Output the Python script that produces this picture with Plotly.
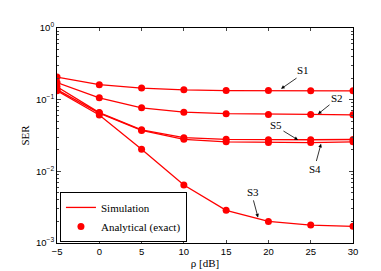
import plotly.graph_objects as go

rho = [-5, 0, 5, 10, 15, 20, 25, 30]
S1 = [0.207, 0.162, 0.145, 0.137, 0.134, 0.134, 0.133, 0.133]
S2 = [0.173, 0.106, 0.077, 0.067, 0.0637, 0.0623, 0.0623, 0.0614]
S3 = [0.133, 0.061, 0.0204, 0.00643, 0.00286, 0.0020, 0.00178, 0.00171]
S4 = [0.138, 0.065, 0.0372, 0.028, 0.0258, 0.0252, 0.0252, 0.0258]
S5 = [0.151, 0.066, 0.0380, 0.0295, 0.028, 0.0276, 0.0276, 0.0278]
series = {"S1": S1, "S2": S2, "S3": S3, "S4": S4, "S5": S5}

xtick_text = ["\u22125", "0", "5", "10", "15", "20", "25", "30"]
ytick_vals = [1e-3, 1e-2, 1e-1, 1e0]
ytick_text = ["10<sup>\u22123</sup>", "10<sup>\u22122</sup>", "10<sup>\u22121</sup>", "10<sup>0</sup>"]

RED = "#ff0000"
fig = go.Figure()
first = True
for name, vals in series.items():
    fig.add_trace(go.Scatter(x=rho, y=vals, mode="lines", line=dict(color=RED, width=1.3),
                             name="Simulation", showlegend=first, legendrank=1))
    first = False
first = True
for name, vals in series.items():
    fig.add_trace(go.Scatter(x=rho, y=vals, mode="markers", marker=dict(color=RED, size=7),
                             name="Analytical (exact)", showlegend=first, legendrank=2))
    first = False

# labels: (text, text_x, text_ylog, tail_x, tail_ylog, head_x, head_ylog)
labels = [
    ("S1", 24.09, -0.589, 23.5, -0.685, 21.49, -0.849),
    ("S2", 28.11, -0.973, 27.40, -1.055, 25.86, -1.201),
    ("S5", 20.9, -1.356, 21.6, -1.425, 23.5, -1.562),
    ("S4", 25.5, -1.973, 25.62, -1.877, 26.22, -1.616),
    ("S3", 18.18, -2.288, 18.18, -2.384, 18.77, -2.644),
]
serif = "Liberation Serif"
for t, tx, ty, ax_, ay_, hx, hy in labels:
    fig.add_annotation(x=tx, y=ty, xref="x", yref="y", text=t, showarrow=False,
                       font=dict(family=serif, size=11, color="black"))
    fig.add_annotation(x=hx, y=hy, ax=ax_, ay=ay_, xref="x", yref="y", axref="x", ayref="y",
                       text="", showarrow=True, arrowhead=2, arrowsize=0.9, arrowwidth=0.8,
                       arrowcolor="black")

fig.update_layout(
    width=381, height=271,
    margin=dict(l=49, r=36, t=20, b=32),
    paper_bgcolor="white", plot_bgcolor="white",
    font=dict(family="Liberation Sans", size=9.5, color="black"),
    legend=dict(x=0.01, y=0.005, xanchor="left", yanchor="bottom",
                bgcolor="white", bordercolor="black", borderwidth=1,
                font=dict(family=serif, size=11), tracegroupgap=0,
                itemwidth=30),
    showlegend=True,
)
fig.update_xaxes(range=[-5, 30], tickvals=rho, ticktext=xtick_text, ticks="inside", ticklen=3,
                 showline=True, linecolor="black", linewidth=1, mirror="ticks",
                 showgrid=False, zeroline=False,
                 title=dict(text="ρ [dB]", font=dict(family=serif, size=11), standoff=2))
fig.update_yaxes(type="log", range=[-3, 0], tickvals=ytick_vals, ticktext=ytick_text,
                 ticks="inside", ticklen=4,
                 minor=dict(ticks="inside", ticklen=2, dtick="D1", showgrid=False),
                 showline=True, linecolor="black", linewidth=1, mirror="ticks",
                 showgrid=False, zeroline=False,
                 title=dict(text="SER", font=dict(family=serif, size=11), standoff=4))
fig.write_html("out.html")
